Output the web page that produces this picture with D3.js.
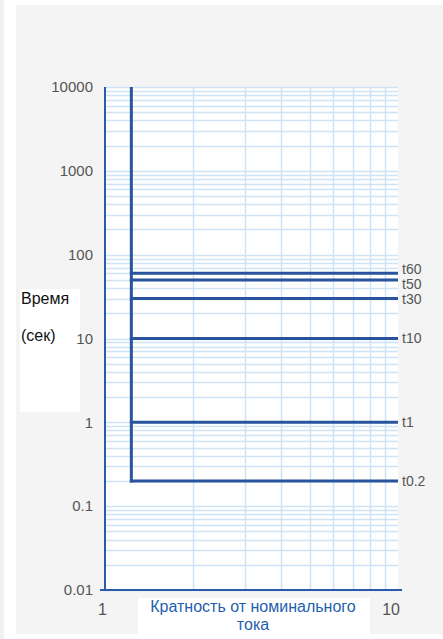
<!DOCTYPE html>
<html>
<head>
<meta charset="utf-8">
<script src="https://cdn.jsdelivr.net/npm/d3@7/dist/d3.min.js"></script>
<style>
html,body{margin:0;padding:0;background:#fff;}
svg{display:block;}
</style>
</head>
<body>
<svg id="chart" width="443" height="639"></svg>
<script>
// ---- data ----
const curveLabels = ["t60", "t50", "t30", "t10", "t1", "t0.2"];
const curveTimes = [60, 50, 30, 10, 1, 0.2];
const multipleStart = 1.23; // current multiple where the characteristic begins
const yTickValues = [10000, 1000, 100, 10, 1, 0.1, 0.01];
const yTickLabels = ["10000", "1000", "100", "10", "1", "0.1", "0.01"];
const xTickValues = [1, 10];
const xTickLabels = ["1", "10"];
const yTitleLines = ["Время", "(сек)"];
const xTitleLines = ["Кратность от номинального", "тока"];

(function () {
const svg = d3.select("#chart");
const W = 443, H = 639;
const pL = 105, pR = 398, pT = 87, pB = 590;

const x = d3.scaleLog().domain([1, 10]).range([pL, pR]);
const y = d3.scaleLog().domain([0.01, 10000]).range([pB, pT]);

// outer backgrounds
svg.append("rect").attr("x", 0).attr("y", 0).attr("width", 4).attr("height", H).attr("fill", "#f1f1f1");
svg.append("rect").attr("x", 16).attr("y", 5).attr("width", W - 16).attr("height", 629).attr("fill", "#f4f4f4");

// plot background
svg.append("rect").attr("x", pL).attr("y", pT).attr("width", pR - pL).attr("height", pB - pT).attr("fill", "#fff");

// grid
const gridColor = "#cfe3f6";
const yGrid = [];
for (let e = -2; e < 4; e++) for (let m = 1; m <= 9; m++) yGrid.push(m * Math.pow(10, e));
yGrid.push(10000);
svg.append("g").selectAll("line").data(yGrid).join("line")
  .attr("x1", pL).attr("x2", pR)
  .attr("y1", d => Math.round(y(d)) + 0.5).attr("y2", d => Math.round(y(d)) + 0.5)
  .attr("stroke", gridColor).attr("stroke-width", 1.5);
const xGrid = [2, 3, 4, 5, 6, 7, 8, 9];
svg.append("g").selectAll("line").data(xGrid).join("line")
  .attr("y1", pT).attr("y2", pB)
  .attr("x1", d => Math.round(x(d)) + 0.5).attr("x2", d => Math.round(x(d)) + 0.5)
  .attr("stroke", gridColor).attr("stroke-width", 1.5);

// white title boxes
svg.append("rect").attr("x", 20).attr("y", 289).attr("width", 60).attr("height", 123).attr("fill", "#fff");
svg.append("rect").attr("x", 138).attr("y", 598).attr("width", 232).attr("height", 36).attr("fill", "#fff");

// axes lines
const axisColor = "#2a5aa8";
svg.append("line").attr("x1", pL).attr("x2", pL).attr("y1", pT).attr("y2", pB + 1)
  .attr("stroke", axisColor).attr("stroke-width", 2);
svg.append("line").attr("x1", 100).attr("x2", 402).attr("y1", pB).attr("y2", pB)
  .attr("stroke", axisColor).attr("stroke-width", 2);

// tick labels via d3 axes
const tickFont = "'Liberation Sans Narrow', 'Liberation Sans', Arial, sans-serif";
const yAxis = d3.axisLeft(y).tickValues(yTickValues).tickSize(0).tickPadding(12)
  .tickFormat((d, i) => yTickLabels[i]);
const gy = svg.append("g").attr("transform", `translate(${pL},0)`).call(yAxis);
gy.select(".domain").remove();
gy.selectAll("text").attr("fill", "#555").style("font-family", tickFont).style("font-size", "15px");

const xAxis = d3.axisBottom(x).tickValues(xTickValues).tickSize(0).tickPadding(0)
  .tickFormat((d, i) => xTickLabels[i]);
const gx = svg.append("g").attr("transform", `translate(0,${pB})`).call(xAxis);
gx.select(".domain").remove();
gx.selectAll("text").attr("fill", "#555").attr("text-anchor", "end").attr("dy", null).attr("y", 25)
  .attr("dx", 1.5)
  .style("font-family", tickFont).style("font-size", "16px");

// characteristic lines
const lineColor = "#2a539e";
svg.append("line")
  .attr("x1", x(multipleStart)).attr("x2", x(multipleStart))
  .attr("y1", y(10000)).attr("y2", y(d3.min(curveTimes)) + 1.5)
  .attr("stroke", lineColor).attr("stroke-width", 3);
svg.append("g").selectAll("line").data(curveTimes).join("line")
  .attr("x1", x(multipleStart) - 1.5).attr("x2", x(10))
  .attr("y1", d => y(d)).attr("y2", d => y(d))
  .attr("stroke", lineColor).attr("stroke-width", 3);

// label positions with simple symmetric collision avoidance
const minGap = 15;
const ly = curveTimes.map(d => y(d));
for (let iter = 0; iter < 20; iter++) {
  for (let i = 0; i < ly.length - 1; i++) {
    const gap = ly[i + 1] - ly[i];
    if (gap < minGap) {
      const push = (minGap - gap) / 2;
      ly[i] -= push; ly[i + 1] += push;
    }
  }
}
svg.append("g").selectAll("text").data(curveTimes).join("text")
  .attr("x", x(10) + 4).attr("y", (d, i) => ly[i]).attr("dy", "0.35em")
  .attr("fill", "#555").style("font-family", tickFont).style("font-size", "14px")
  .text((d, i) => curveLabels[i]);

// titles
const titleFont = "'Liberation Sans', Arial, sans-serif";
svg.append("g").selectAll("text").data(yTitleLines).join("text")
  .attr("x", 21).attr("y", (d, i) => 304 + i * 37)
  .attr("fill", "#111").style("font-family", titleFont).style("font-size", "16px")
  .text(d => d);
svg.append("g").selectAll("text").data(xTitleLines).join("text")
  .attr("x", 253).attr("y", (d, i) => 612 + i * 18)
  .attr("text-anchor", "middle")
  .attr("fill", "#1f5fb0").style("font-family", titleFont).style("font-size", "16px")
  .text(d => d);
})();
</script>
</body>
</html>
